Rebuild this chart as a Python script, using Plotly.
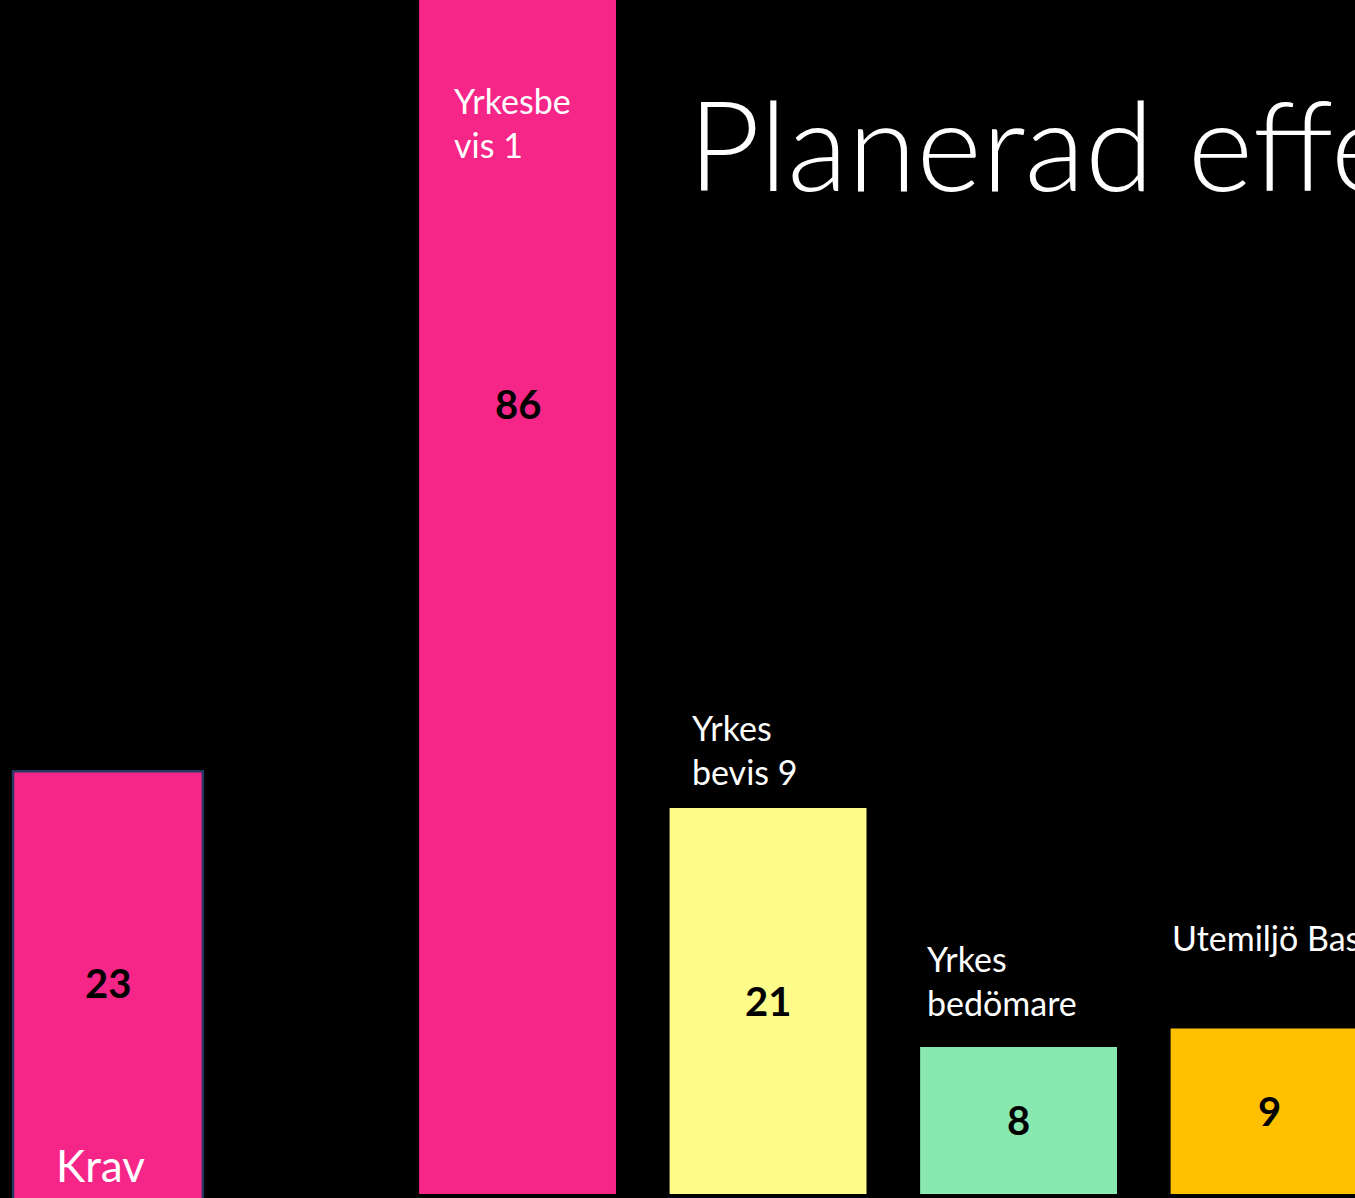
import plotly.graph_objects as go

# ---- data ----
categories = ["Krav", "Yrkesbevis 1", "Yrkesbevis 9", "Yrkesbedömare", "Utemiljö Bas"]
values = [23, 86, 21, 8, 9]
slots = [0.365, 2, 3, 4, 5]          # horizontal slot of each bar
bar_widths = [0.758, 0.786, 0.786, 0.786, 0.786]
bar_colors = ["#F62689", "#F62689", "#FDFC8A", "#88E8B0", "#FFC000"]
bases = [-1, 0, 0, 0, 0]
label_texts = ["Krav", "Yrkesbe<br>vis 1", "Yrkes<br>bevis 9", "Yrkes<br>bedömare", "Utemiljö Bas"]
label_x = [0.15, 1.74, 2.687, 3.625, 4.605]
label_y = [1.58, 58.3, 24.16, 11.64, 13.93]
label_sizes = [44, 34, 34, 34, 34]
title_text = "Planerad effekt"

FONT = "Lato, 'Open Sans', sans-serif"

fig = go.Figure()
fig.add_trace(go.Bar(
    x=slots, y=[v - b if b < 0 else v for v, b in zip(values, bases)],
    base=bases,
    width=bar_widths,
    marker=dict(color=bar_colors,
                line=dict(color=["#22385F", "rgba(0,0,0,0)", "rgba(0,0,0,0)", "rgba(0,0,0,0)", "rgba(0,0,0,0)"],
                          width=[2.5, 0, 0, 0, 0])),
    hoverinfo="skip", showlegend=False,
))

annotations = []
for s, v in zip(slots, values):
    annotations.append(dict(x=s, y=v / 2, xref="x", yref="y", text=f"<b>{v}</b>",
                            showarrow=False, xanchor="center", yanchor="middle",
                            font=dict(family=FONT, size=40, color="black")))
for t, lx, ly, fs in zip(label_texts, label_x, label_y, label_sizes):
    annotations.append(dict(x=lx, y=ly, xref="x", yref="y", text=t, showarrow=False,
                            xanchor="left", yanchor="middle", align="left",
                            font=dict(family=FONT, size=fs, color="white")))
annotations.append(dict(x=686 / 1355, y=0.881, xref="paper", yref="paper", text=title_text,
                        showarrow=False, xanchor="left", yanchor="middle",
                        font=dict(family=FONT, size=125, color="white", weight=300)))

fig.update_layout(
    width=1355, height=1198,
    margin=dict(l=0, r=0, t=0, b=0),
    paper_bgcolor="black", plot_bgcolor="black",
    xaxis=dict(range=[-0.0659, 5.343], visible=False, fixedrange=True),
    yaxis=dict(range=[-0.218, 64.96], visible=False, fixedrange=True),
    annotations=annotations,
    font=dict(family=FONT),
)

fig.write_html(
    "out.html",
    config={"displayModeBar": False},
    post_script="document.body.style.margin='0';document.body.style.overflow='hidden';document.body.style.background='black';",
)
